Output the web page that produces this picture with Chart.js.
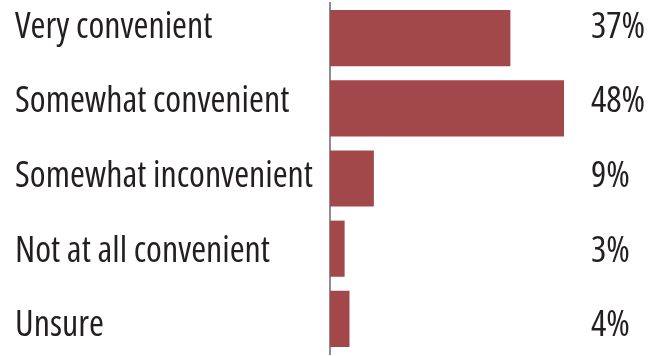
<!DOCTYPE html>
<html>
<head>
<meta charset="utf-8">
<script src="https://cdn.jsdelivr.net/npm/chart.js@4/dist/chart.umd.min.js"></script>
<style>
  html, body { margin: 0; padding: 0; background: #fff; }
  #wrap { width: 658px; height: 356px; }
</style>
</head>
<body>
<div id="wrap"><canvas id="myChart"></canvas></div>
<script>
// survey answers and their shares (percent)
var answers = ['Very convenient', 'Somewhat convenient', 'Somewhat inconvenient', 'Not at all convenient', 'Unsure'];
var shares = [37, 48, 9, 3, 4];

// condensed face via the font shorthand (weight slot carries the stretch keyword)
var labelFont = { family: '"Open Sans", sans-serif', size: 36, weight: '500 condensed' };
var textColor = '#231f20';

// text rows sit on their own slightly wider grid than the bars
var rowMin = -0.328, rowMax = 4.377;

function rowTicks(scale) {
    scale.ticks = answers.map(function (a, i) { return { value: i }; });
}

function noEdgePadding(scale) {
    scale.paddingTop = 0;
    scale.paddingBottom = 0;
}

var ctx = document.getElementById('myChart').getContext('2d');
var myChart = new Chart(ctx, {
    type: 'bar',
    data: {
        labels: answers,
        datasets: [{
            data: shares,
            backgroundColor: '#a2484a',
            categoryPercentage: 1,
            barPercentage: 0.8
        }]
    },
    options: {
        indexAxis: 'y',
        responsive: true,
        maintainAspectRatio: false,
        animation: false,
        layout: { padding: { left: 15, right: 0, top: 3, bottom: 2 } },
        plugins: {
            legend: { display: false },
            tooltip: { enabled: false }
        },
        scales: {
            x: { display: false, min: 0, max: 48 },
            y: { display: false },
            names: {
                type: 'linear',
                position: 'left',
                reverse: true,
                offset: false,
                bounds: 'data',
                min: rowMin,
                max: rowMax,
                afterBuildTicks: rowTicks,
                afterFit: function (scale) { scale.width = 315; noEdgePadding(scale); },
                grid: { display: false, drawTicks: false },
                border: { display: true, color: '#8e8e8e', width: 2 },
                ticks: {
                    autoSkip: false,
                    crossAlign: 'far',
                    padding: 0,
                    color: textColor,
                    font: labelFont,
                    callback: function (v) { return answers[v]; }
                }
            },
            pct: {
                type: 'linear',
                position: 'right',
                reverse: true,
                offset: false,
                bounds: 'data',
                min: rowMin,
                max: rowMax,
                afterBuildTicks: rowTicks,
                afterFit: function (scale) { scale.width = 94; noEdgePadding(scale); },
                grid: { display: false, drawTicks: false },
                border: { display: false },
                ticks: {
                    autoSkip: false,
                    crossAlign: 'near',
                    padding: 27,
                    color: textColor,
                    font: labelFont,
                    callback: function (v) { return shares[v] + '%'; }
                }
            }
        }
    }
});
</script>
</body>
</html>
